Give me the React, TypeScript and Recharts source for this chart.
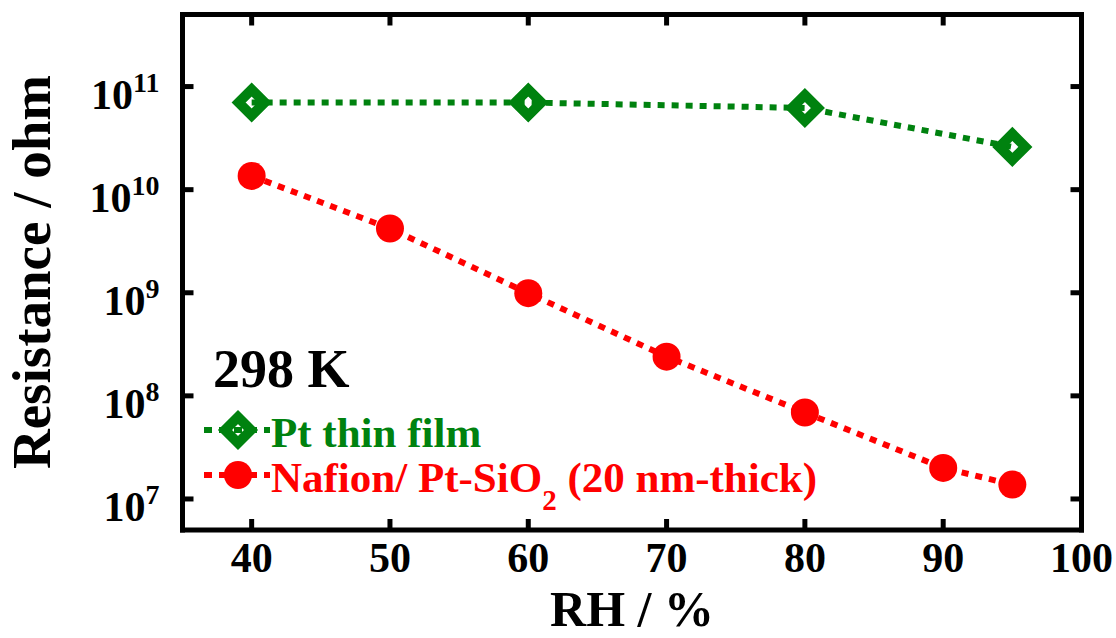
import { Line, LineChart, XAxis, YAxis } from "recharts";

// RH (%) on x, resistance (ohm) on a log y axis
const rhTicks = [40, 50, 60, 70, 80, 90, 100];
const resTicks = [1e7, 1e8, 1e9, 1e10, 1e11];

const ptRH = [40, 60, 80, 95];
const ptRes = [7.0e10, 7.0e10, 6.2e10, 2.6e10];

const nafionRH = [40, 50, 60, 70, 80, 90, 95];
const nafionRes = [1.36e10, 4.2e9, 9.9e8, 2.4e8, 6.9e7, 2.0e7, 1.38e7];

const GREEN = "#00820f";
const RED = "#ff0000";
const FONT = "'Liberation Serif', 'Times New Roman', serif";

const ptData = ptRH.map((rh, i) => ({ rh, res: ptRes[i] }));
const nafionData = nafionRH.map((rh, i) => ({ rh, res: nafionRes[i] }));

function Diamond({ cx, cy }: { cx: number; cy: number }) {
    const r = 13;
    return (
        <polygon
            points={`${cx},${cy - r} ${cx + r},${cy} ${cx},${cy + r} ${cx - r},${cy}`}
            fill="none"
            stroke={GREEN}
            strokeWidth={10}
        />
    );
}

function XTick({ x, y, payload }: any) {
    return (
        <text x={x} y={y + 42} textAnchor="middle" fontFamily={FONT} fontWeight="bold" fontSize={42} fill="#000">
            {payload.value}
        </text>
    );
}

function YTick({ x, y, payload }: any) {
    const exp = Math.round(Math.log10(payload.value));
    return (
        <text x={x - 23} y={y + 22} textAnchor="end" fontFamily={FONT} fontWeight="bold" fontSize={42} fill="#000">
            10<tspan fontSize={28} dy={-17}>{exp}</tspan>
        </text>
    );
}

const frame = { stroke: "#000", strokeWidth: 5, strokeLinecap: "square" as const };
const tickMark = { stroke: "#000", strokeWidth: 5 };

export default function App() {
    return (
        <div style={{ position: "absolute", left: 0, top: 0, width: 1116, height: 638, background: "#fff" }}>
            <LineChart width={1116} height={638} margin={{ top: 13.5, right: 33.5, left: 0, bottom: 0 }}>
                <XAxis
                    dataKey="rh"
                    type="number"
                    domain={[35, 100]}
                    ticks={rhTicks}
                    allowDataOverflow
                    height={108}
                    axisLine={frame}
                    tickLine={tickMark}
                    tickSize={-11}
                    tickMargin={11}
                    tick={<XTick />}
                />
                <XAxis
                    xAxisId="top"
                    orientation="top"
                    dataKey="rh"
                    type="number"
                    domain={[35, 100]}
                    ticks={rhTicks}
                    allowDataOverflow
                    height={1}
                    axisLine={frame}
                    tickLine={tickMark}
                    tickSize={-11}
                    tick={<g />}
                />
                <YAxis
                    scale="log"
                    type="number"
                    domain={[5e6, 5e11]}
                    ticks={resTicks}
                    allowDataOverflow
                    width={182.5}
                    axisLine={frame}
                    tickLine={tickMark}
                    tickSize={-11}
                    tickMargin={11}
                    tick={<YTick />}
                />
                <YAxis
                    yAxisId="right"
                    orientation="right"
                    scale="log"
                    type="number"
                    domain={[5e6, 5e11]}
                    ticks={resTicks}
                    allowDataOverflow
                    width={1}
                    axisLine={frame}
                    tickLine={tickMark}
                    tickSize={-11}
                    tick={<g />}
                />
                <Line
                    data={ptData}
                    dataKey="res"
                    type="linear"
                    stroke={GREEN}
                    strokeWidth={6}
                    strokeDasharray="7 7"
                    dot={(p: any) => <Diamond key={"pt" + p.index} cx={p.cx} cy={p.cy} />}
                    activeDot={false}
                    isAnimationActive={false}
                />
                <Line
                    data={nafionData}
                    dataKey="res"
                    type="linear"
                    stroke={RED}
                    strokeWidth={6}
                    strokeDasharray="7 7"
                    dot={{ r: 14, fill: RED, stroke: "none" }}
                    activeDot={false}
                    isAnimationActive={false}
                />
            </LineChart>
            <svg width={1116} height={638} style={{ position: "absolute", left: 0, top: 0, pointerEvents: "none" }}>
                <text x={632} y={626} textAnchor="middle" fontFamily={FONT} fontWeight="bold" fontSize={50} fill="#000">
                    RH / %
                </text>
                <text
                    x={50}
                    y={272}
                    transform="rotate(-90 50 272)"
                    textAnchor="middle"
                    fontFamily={FONT}
                    fontWeight="bold"
                    fontSize={55}
                    fill="#000"
                >
                    Resistance / ohm
                </text>
                <text x={213} y={387} fontFamily={FONT} fontWeight="bold" fontSize={54} fill="#000">
                    298 K
                </text>
                {/* legend */}
                <line x1={204} y1={430} x2={270} y2={430} stroke={GREEN} strokeWidth={6} strokeDasharray="8 7" />
                <Diamond cx={238} cy={430} />
                <text x={271} y={447} fontFamily={FONT} fontWeight="bold" fontSize={43} fill={GREEN}>
                    Pt thin film
                </text>
                <line x1={204} y1={475} x2={270} y2={475} stroke={RED} strokeWidth={6} strokeDasharray="8 7" />
                <circle cx={238} cy={475} r={14} fill={RED} />
                <text x={271} y={492} fontFamily={FONT} fontWeight="bold" fontSize={43} fill={RED}>
                    Nafion/ Pt-SiO<tspan fontSize={29} dy={18}>2</tspan>
                    <tspan dy={-18}> (20 nm-thick)</tspan>
                </text>
            </svg>
        </div>
    );
}
